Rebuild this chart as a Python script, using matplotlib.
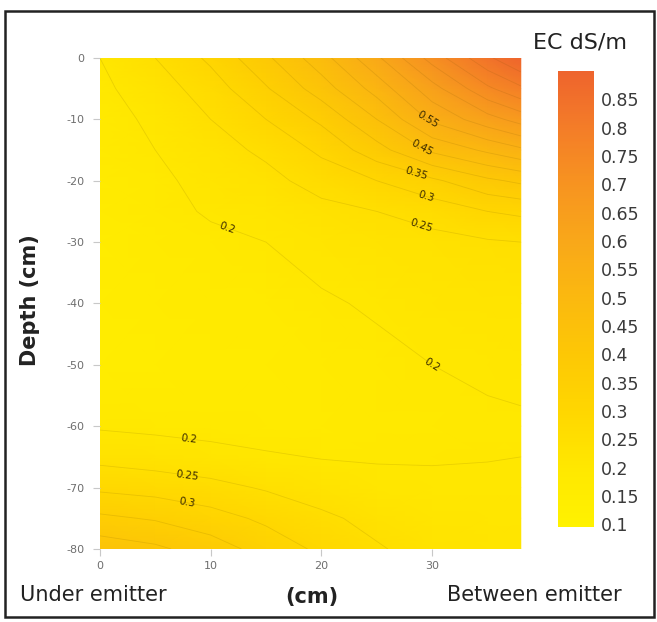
import numpy as np
import matplotlib
matplotlib.use("Agg")
import matplotlib.pyplot as plt
from matplotlib.colors import LinearSegmentedColormap, Normalize
from matplotlib.patches import Rectangle

plt.rcParams["font.family"] = "DejaVu Sans"
plt.rcParams["axes.unicode_minus"] = False

# distance from emitter (cm) and depth (cm)
distance = [0, 5, 10, 15, 20, 25, 30, 35, 38]
depth = [0, -5, -10, -15, -20, -25, -30, -40, -50, -60, -65, -70, -75, -80]

# EC (dS/m), one row per depth
ec_0 = [0.20, 0.25, 0.31, 0.39, 0.48, 0.59, 0.72, 0.84, 0.90]
ec_5 = [0.19, 0.225, 0.275, 0.345, 0.425, 0.52, 0.63, 0.74, 0.79]
ec_10 = [0.18, 0.21, 0.25, 0.30, 0.36, 0.45, 0.56, 0.63, 0.67]
ec_15 = [0.175, 0.20, 0.23, 0.26, 0.31, 0.38, 0.46, 0.51, 0.54]
ec_20 = [0.17, 0.19, 0.215, 0.235, 0.27, 0.30, 0.34, 0.39, 0.41]
ec_25 = [0.165, 0.185, 0.205, 0.215, 0.235, 0.25, 0.27, 0.30, 0.31]
ec_30 = [0.16, 0.175, 0.19, 0.20, 0.215, 0.225, 0.235, 0.245, 0.25]
ec_40 = [0.155, 0.165, 0.175, 0.18, 0.195, 0.205, 0.215, 0.22, 0.22]
ec_50 = [0.15, 0.155, 0.165, 0.17, 0.18, 0.19, 0.20, 0.205, 0.21]
ec_60 = [0.195, 0.19, 0.185, 0.18, 0.18, 0.185, 0.19, 0.195, 0.195]
ec_65 = [0.235, 0.225, 0.215, 0.205, 0.198, 0.197, 0.198, 0.199, 0.20]
ec_70 = [0.29, 0.28, 0.265, 0.245, 0.225, 0.21, 0.205, 0.205, 0.205]
ec_75 = [0.36, 0.345, 0.32, 0.29, 0.26, 0.235, 0.215, 0.21, 0.21]
ec_80 = [0.43, 0.41, 0.375, 0.33, 0.29, 0.255, 0.23, 0.215, 0.215]

line_levels = [0.15, 0.2, 0.25, 0.3, 0.35, 0.4, 0.45, 0.5, 0.55, 0.6, 0.65, 0.7, 0.75, 0.8, 0.85]
label_levels = [0.2, 0.25, 0.3, 0.35, 0.45, 0.55]
cbar_ticks = [0.1, 0.15, 0.2, 0.25, 0.3, 0.35, 0.4, 0.45, 0.5, 0.55, 0.6, 0.65, 0.7, 0.75, 0.8, 0.85]

ec = np.array([ec_0, ec_5, ec_10, ec_15, ec_20, ec_25, ec_30,
               ec_40, ec_50, ec_60, ec_65, ec_70, ec_75, ec_80])
X, Y = np.meshgrid(distance, depth)

cmap = LinearSegmentedColormap.from_list("ec", [
    (0.0, "#fff200"), (0.125, "#ffe800"), (0.25, "#ffd700"), (0.375, "#fdc805"),
    (0.5, "#fbb90f"), (0.625, "#f9a819"), (0.75, "#f79420"), (0.875, "#f47d28"),
    (1.0, "#ee642d")])
norm = Normalize(vmin=0.095, vmax=0.9)

fig = plt.figure(figsize=(6.57, 6.22), dpi=100)
ax = fig.add_axes([0.152, 0.1174, 0.644, 0.7894])
cax = fig.add_axes([0.849, 0.1527, 0.0548, 0.733])

mesh = ax.pcolormesh(X, Y, ec, cmap=cmap, norm=norm, shading="gouraud")
cs = ax.contour(X, Y, ec, levels=line_levels, colors="#6b4a00", linewidths=0.6, alpha=0.14)
cs_lab = ax.contour(X, Y, ec, levels=label_levels, colors="none")
label_spots = [(29.5, -10.5), (29.0, -15.0), (28.5, -19.5), (29.5, -22.5), (29.0, -27.5),
               (11.7, -26.7), (30.0, -50.0), (8.0, -62.0), (8.0, -67.0), (8.0, -71.5)]
ax.clabel(cs_lab, fmt="%g", fontsize=7.5, colors="#3a2a00", manual=label_spots, inline=False)

ax.set_xlim(0, 38.2)
ax.set_ylim(-80, 0)
ax.set_xticks([0, 10, 20, 30])
ax.set_yticks([0, -10, -20, -30, -40, -50, -60, -70, -80])
ax.tick_params(colors="#c8c8c8", labelcolor="#6e6e6e", labelsize=8, length=5, width=0.8)
ax.tick_params(axis="y", pad=6)
for sp in ax.spines.values():
    sp.set_visible(False)
ax.set_xlabel("(cm)", fontsize=15, fontweight="bold", color="#222222", labelpad=12)

cbar = fig.colorbar(mesh, cax=cax, ticks=cbar_ticks)
cbar.outline.set_visible(False)
cbar.ax.tick_params(length=0, labelsize=12.5, labelcolor="#3a3a3a", pad=5)
cbar.ax.set_yticklabels(["%g" % t for t in cbar_ticks])

fig.text(30 / 657, 1 - 300 / 622, "Depth (cm)", rotation=90, ha="center", va="center",
         fontsize=15, fontweight="bold", color="#222222")
fig.text(580 / 657, 1 - 42 / 622, "EC dS/m", ha="center", va="center", fontsize=16, color="#222222")
fig.text(20 / 657, 1 - 595 / 622, "Under emitter", ha="left", va="center", fontsize=15, color="#222222")
fig.text(622 / 657, 1 - 595 / 622, "Between emitter", ha="right", va="center", fontsize=15, color="#222222")

fig.patches.append(Rectangle((5 / 657, 1 - 617 / 622), 649 / 657, 606 / 622, transform=fig.transFigure,
                             fill=False, edgecolor="#222222", linewidth=1.8))

fig.savefig("out.png", dpi=100)
